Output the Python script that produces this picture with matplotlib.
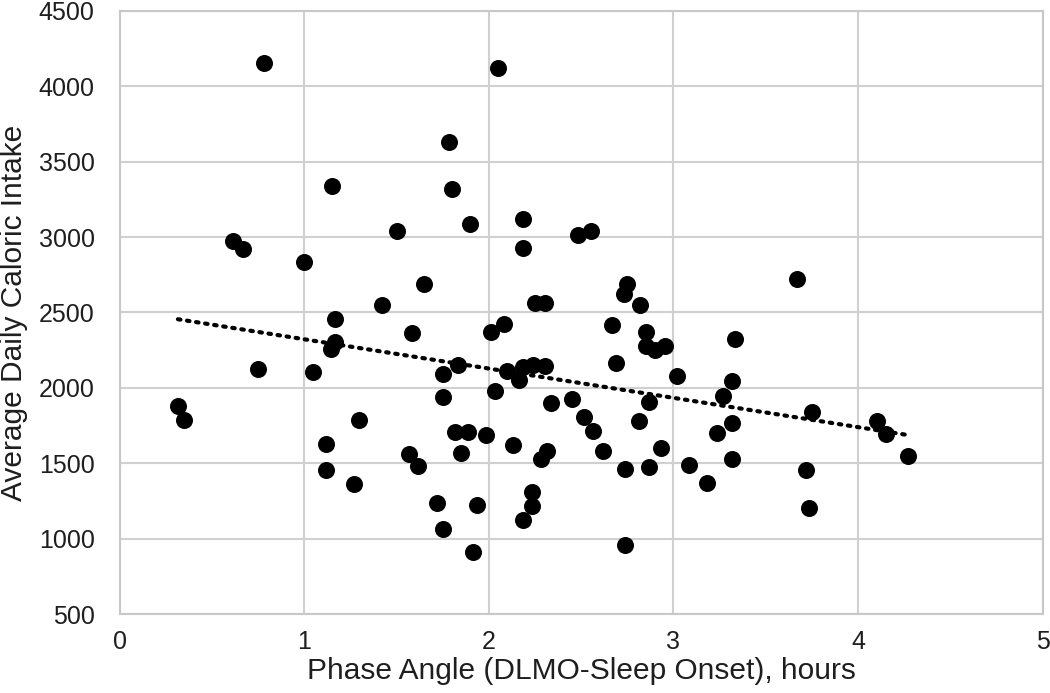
import numpy as np
import matplotlib
matplotlib.use("Agg")
import matplotlib.pyplot as plt

phase_angle = [0.782, 1.149, 1.501, 0.616, 0.667, 1.001, 1.650, 1.420, 1.169, 2.050,
               1.784, 1.801, 1.900, 2.184, 2.184, 2.483, 2.552, 2.250, 2.305, 2.750,
               2.732, 2.819, 2.081, 2.667, 3.668, 1.584, 1.169, 1.147, 0.751, 1.049,
               0.316, 0.349, 1.299, 1.116, 1.568, 1.618, 1.116, 1.268, 2.852, 2.852,
               2.902, 2.953, 3.332, 2.014, 1.833, 1.750, 1.750, 2.100, 2.186, 2.237,
               2.304, 2.165, 2.035, 2.335, 2.451, 2.516, 2.566, 2.617, 2.686, 2.866,
               2.815, 2.934, 2.736, 2.866, 3.018, 3.083, 3.184, 3.267, 3.317, 3.234,
               3.317, 3.317, 1.815, 1.887, 1.983, 1.848, 2.133, 2.317, 2.281, 2.232,
               2.232, 2.184, 1.717, 1.934, 1.750, 1.916, 2.736, 3.751, 3.720, 3.735,
               4.101, 4.150, 4.271]
calories = [4153, 3340, 3042, 2976, 2919, 2833, 2689, 2548, 2455, 4121,
            3628, 3316, 3087, 3122, 2925, 3016, 3042, 2561, 2561, 2689,
            2623, 2550, 2424, 2417, 2720, 2366, 2302, 2258, 2126, 2106,
            1880, 1786, 1788, 1627, 1562, 1485, 1454, 1365, 2373, 2280,
            2250, 2278, 2324, 2369, 2152, 2093, 1942, 2110, 2141, 2152,
            2148, 2053, 1982, 1898, 1925, 1810, 1717, 1582, 2163, 1909,
            1781, 1602, 1463, 1478, 2079, 1487, 1372, 1949, 2048, 1699,
            1766, 1531, 1706, 1706, 1688, 1567, 1620, 1584, 1527, 1310,
            1218, 1125, 1235, 1226, 1067, 911, 957, 1839, 1456, 1204,
            1783, 1695, 1551]

x_ticks = [0, 1, 2, 3, 4, 5]
y_ticks = [500, 1000, 1500, 2000, 2500, 3000, 3500, 4000, 4500]
x_label = "Phase Angle (DLMO-Sleep Onset), hours"
y_label = "Average Daily Caloric Intake"

plt.rcParams['font.family'] = ['Liberation Sans', 'DejaVu Sans']

fig = plt.figure(figsize=(10.5, 6.93), dpi=100)
ax = fig.add_axes([0.1139, 0.1136, 0.8792, 0.8710])

x = np.array(phase_angle)
y = np.array(calories)
ax.scatter(x, y, s=150, color='black', zorder=3, linewidths=0)

slope, intercept = np.polyfit(x, y, 1)
xl = np.array([x.min(), x.max()])
ax.plot(xl, slope * xl + intercept, color='black', linestyle=(0, (0.6, 1.6)),
        linewidth=3, dash_capstyle='round', zorder=2)

ax.set_xlim(0, 5)
ax.set_ylim(500, 4500)
ax.set_xticks(x_ticks)
ax.set_yticks(y_ticks)
ax.grid(True, color='#d0d0d0', linewidth=1.5, zorder=0)
ax.set_axisbelow(True)
for sp in ax.spines.values():
    sp.set_color('#c8c8c8')
    sp.set_linewidth(1.5)
ax.tick_params(length=0, labelsize=18, colors='#1e1e1e')
ax.tick_params(axis='x', pad=11)
ax.tick_params(axis='y', pad=18)
ax.set_xlabel(x_label, fontsize=21.5, color='#1e1e1e')
ax.set_ylabel(y_label, fontsize=21.5, color='#1e1e1e')
ax.xaxis.set_label_coords(0.5, -0.071)
ax.yaxis.set_label_coords(-0.099, 0.5)

fig.savefig("out.png", dpi=100)
